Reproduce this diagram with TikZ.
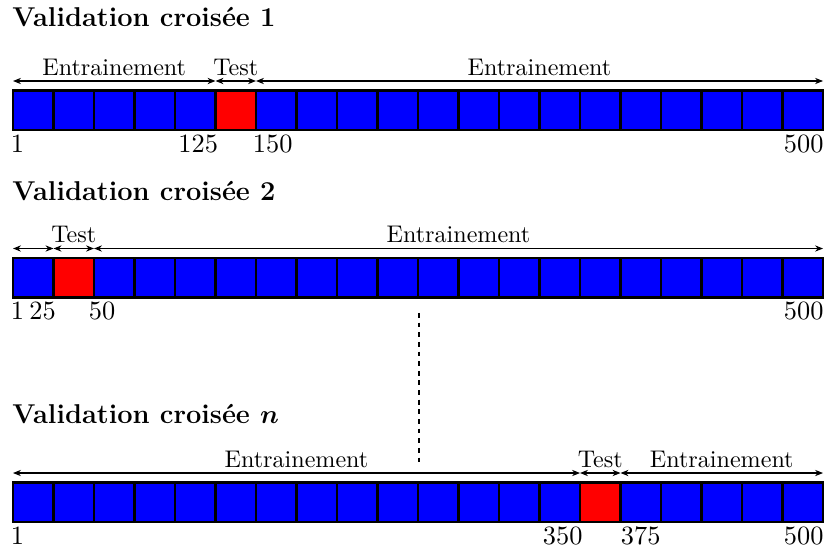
\documentclass[tikz,border=0pt]{standalone}
\usepackage{bm}
\usetikzlibrary{arrows.meta}
\begin{document}
\begin{tikzpicture}[x=0.415pt,y=-0.415pt,
  cellbox/.style={draw=black,line width=1pt,fill=blue,minimum width=16.81pt,minimum height=16.39pt,inner sep=0pt,outer sep=0pt},
  spanarrow/.style={line width=0.45pt,{Stealth[length=3.3pt,width=2.6pt]}-{Stealth[length=3.3pt,width=2.6pt]}},
  lab/.style={font=\fontsize{10}{12}\selectfont,inner sep=0pt,anchor=base,yshift=2.3pt},
  num/.style={font=\fontsize{10.95}{13}\selectfont,inner sep=0pt},
  ttl/.style={font=\fontsize{11.3}{13.5}\selectfont\bfseries,inner sep=0pt,anchor=base west},
  dotline/.style={line width=0.9pt,dash pattern=on 2pt off 2pt}]
\useasboundingbox (0,0) rectangle (829,550);

% titles
\node[ttl] (t1) at (12,27) {Validation croisée 1};
\node[ttl] (t2) at (12,200.5) {Validation croisée 2};
\node[ttl] (tn) at (12,423) {Validation croisée $\bm{n}$};

% cells
\foreach \r/\yc/\red in {a/110.25/5, b/277.75/1, n/502.25/14} {
  \foreach \i in {0,...,19} {
    \ifnum\i=\red \def\fc{red}\else\def\fc{blue}\fi
    \node[cellbox,fill=\fc] (\r\i) at ({13+40.5*\i+20.25},\yc) {};
  }
}

% arrow end points
\foreach \r in {a,b,n} {
  \foreach \i in {0,...,19} {
    \coordinate (p\r\i) at ([yshift=3.94pt]\r\i.north west);
  }
  \coordinate (p\r end) at ([yshift=3.94pt]\r19.north east);
}

% row 1
\draw[spanarrow] (pa0) -- (pa5) node[lab,midway] {Entrainement};
\draw[spanarrow] (pa5) -- (pa6) node[lab,midway] {Test};
\draw[spanarrow] (pa6) -- (paend) node[lab,midway] {Entrainement};
% row 2
\draw[spanarrow] (pb0) -- (pb1);
\draw[spanarrow] (pb1) -- (pb2) node[lab,midway] {Test};
\draw[spanarrow] (pb2) -- (pbend) node[lab,midway] {Entrainement};
% row n
\draw[spanarrow] (pn0) -- (pn14) node[lab,midway] {Entrainement};
\draw[spanarrow] (pn14) -- (pn15) node[lab,midway] {Test};
\draw[spanarrow] (pn15) -- (pnend) node[lab,midway] {Entrainement};

% numbers
\node[num,anchor=base west] (a-1) at (10.5,153) {1};
\node[num,anchor=base east] (a-125) at (218.5,153) {125};
\node[num,anchor=base west] (a-150) at (252.5,153) {150};
\node[num,anchor=base east] (a-500) at (824,153) {500};

\node[num,anchor=base west] (b-1) at (10.5,320) {1};
\node[num,anchor=base east] (b-25) at (56.3,320) {25};
\node[num,anchor=base west] (b-50) at (88.5,320) {50};
\node[num,anchor=base east] (b-500) at (824,320) {500};

\node[num,anchor=base west] (n-1) at (10.5,544) {1};
\node[num,anchor=base east] (n-350) at (583,544) {350};
\node[num,anchor=base west] (n-375) at (620.5,544) {375};
\node[num,anchor=base east] (n-500) at (824,544) {500};

% dotted separator
\coordinate (d1) at (419,313);
\coordinate (d2) at (419,463);
\draw[dotline] (d1) -- (d2);
\end{tikzpicture}
\end{document}
